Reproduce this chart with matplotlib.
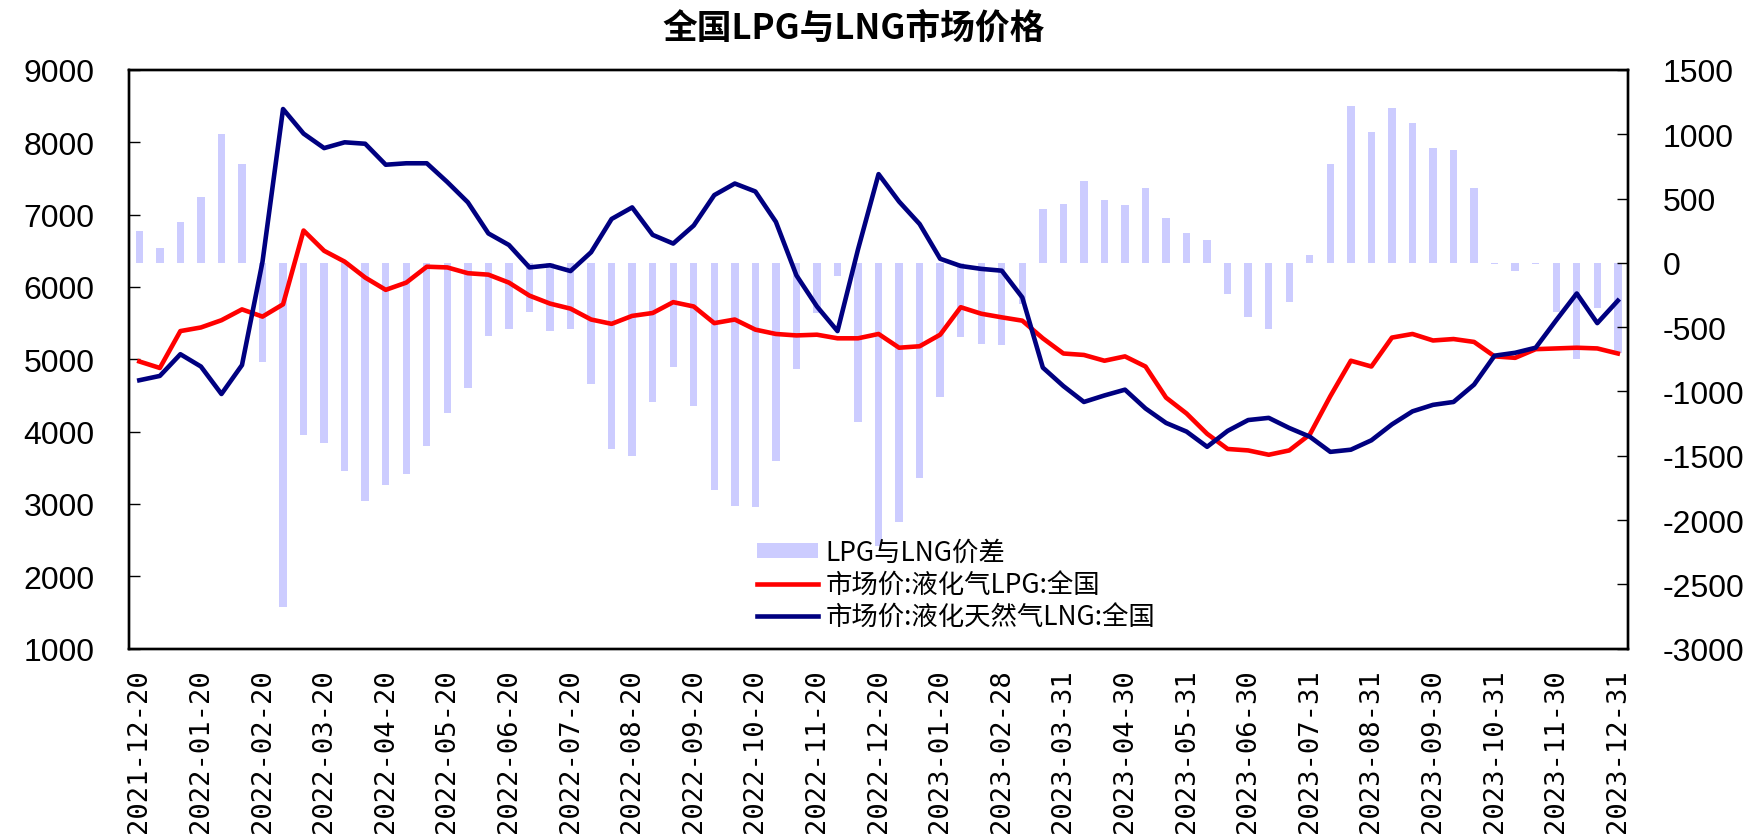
import numpy as np
import matplotlib
matplotlib.use('Agg')
import matplotlib.pyplot as plt

plt.rcParams['font.family'] = ['Liberation Sans', 'Noto Sans CJK SC', 'DejaVu Sans']
plt.rcParams['axes.unicode_minus'] = False

# 市场价:液化气LPG:全国 (left axis)
lpg = [4970, 4880, 5390, 5440, 5540, 5690, 5590, 5760, 6780, 6500,
       6350, 6130, 5960, 6060, 6280, 6270, 6190, 6170, 6060, 5880,
       5770, 5700, 5550, 5490, 5600, 5640, 5790, 5730, 5500, 5550,
       5410, 5350, 5330, 5340, 5290, 5290, 5350, 5160, 5180, 5340,
       5720, 5630, 5580, 5534, 5290, 5080, 5060, 4980, 5040, 4900,
       4470, 4250, 3970, 3760, 3740, 3680, 3740, 3960, 4490, 4980,
       4900, 5300, 5350, 5260, 5280, 5240, 5040, 5020, 5140, 5150,
       5160, 5150, 5080]

# 市场价:液化天然气LNG:全国 (left axis)
lng = [4710, 4770, 5070, 4900, 4520, 4920, 6350, 8460, 8120, 7920,
       8000, 7980, 7690, 7710, 7710, 7450, 7170, 6740, 6580, 6270,
       6300, 6220, 6480, 6940, 7100, 6720, 6600, 6850, 7270, 7430,
       7320, 6900, 6160, 5730, 5390, 6520, 7560, 7180, 6870, 6390,
       6290, 6250, 6225, 5855, 4885, 4630, 4410, 4500, 4580, 4320,
       4120, 4000, 3790, 4010, 4160, 4190, 4050, 3930, 3720, 3750,
       3880, 4100, 4280, 4370, 4410, 4650, 5050, 5090, 5160, 5540,
       5910, 5500, 5810]

# LPG与LNG价差 (right axis)
spread = [250, 115, 320, 510, 1005, 765, -770, -2680, -1340, -1400,
          -1620, -1855, -1725, -1640, -1425, -1170, -975, -570, -515, -380,
          -528, -515, -945, -1450, -1505, -1082, -810, -1117, -1767, -1890,
          -1900, -1540, -825, -390, -100, -1240, -2200, -2015, -1675, -1040,
          -580, -632, -640, -320, 415, 460, 640, 487, 450, 582,
          345, 235, 175, -240, -422, -511, -302, 60, 766, 1222,
          1015, 1205, 1085, 892, 875, 584, -8, -65, -12, -383,
          -748, -352, -700]

tick_labels = ['2021-12-20', '2022-01-20', '2022-02-20', '2022-03-20', '2022-04-20',
               '2022-05-20', '2022-06-20', '2022-07-20', '2022-08-20', '2022-09-20',
               '2022-10-20', '2022-11-20', '2022-12-20', '2023-01-20', '2023-02-28',
               '2023-03-31', '2023-04-30', '2023-05-31', '2023-06-30', '2023-07-31',
               '2023-08-31', '2023-09-30', '2023-10-31', '2023-11-30', '2023-12-31']

x = np.arange(len(lpg))

fig = plt.figure(figsize=(17.58, 8.37), dpi=100)
ax = fig.add_axes([0.0734, 0.2239, 0.8527, 0.6913])
ax2 = ax.twinx()

ax2.bar(x, spread, width=0.36, color='#ccccff', label='LPG与LNG价差')
ax.plot(x, lpg, color='#ff0000', lw=3.3, label='市场价:液化气LPG:全国')
ax.plot(x, lng, color='#000080', lw=3.3, label='市场价:液化天然气LNG:全国')
ax.set_zorder(ax2.get_zorder() + 1)
ax.patch.set_visible(False)

ax.set_xlim(-0.5, len(x) - 0.5)
ax.set_ylim(1000, 9000)
ax2.set_ylim(-3000, 1500)
ax.set_yticks(range(1000, 9001, 1000))
ax2.set_yticks(range(-3000, 1501, 500))
ax.set_xticks(x[::3])
ax.set_xticklabels(tick_labels, rotation=90, family='DejaVu Sans Mono', fontsize=19.5)
ax.tick_params(axis='x', length=0, pad=14)
ax.tick_params(axis='y', direction='in', length=8, width=1, pad=25, labelsize=23)
ax2.tick_params(axis='y', direction='in', length=8, width=1, pad=25, labelsize=23)
for a in (ax, ax2):
    for s in a.spines.values():
        s.set_linewidth(1.7)

h1, l1 = ax2.get_legend_handles_labels()
h2, l2 = ax.get_legend_handles_labels()
ax.legend(h1 + h2, l1 + l2, loc='center left', bbox_to_anchor=(0.419, 0.11),
          frameon=False, prop={'family': ['Noto Sans CJK SC'], 'size': 19},
          handlelength=2.3, handletextpad=0.3, borderpad=0, borderaxespad=0,
          labelspacing=0.2, handleheight=0.5)

fig.text(0.4856, 0.9665, '全国LPG与LNG市场价格', ha='center', va='center',
         fontsize=25, fontweight='bold', family=['Noto Sans CJK SC'])

fig.savefig('out.png', dpi=100)
